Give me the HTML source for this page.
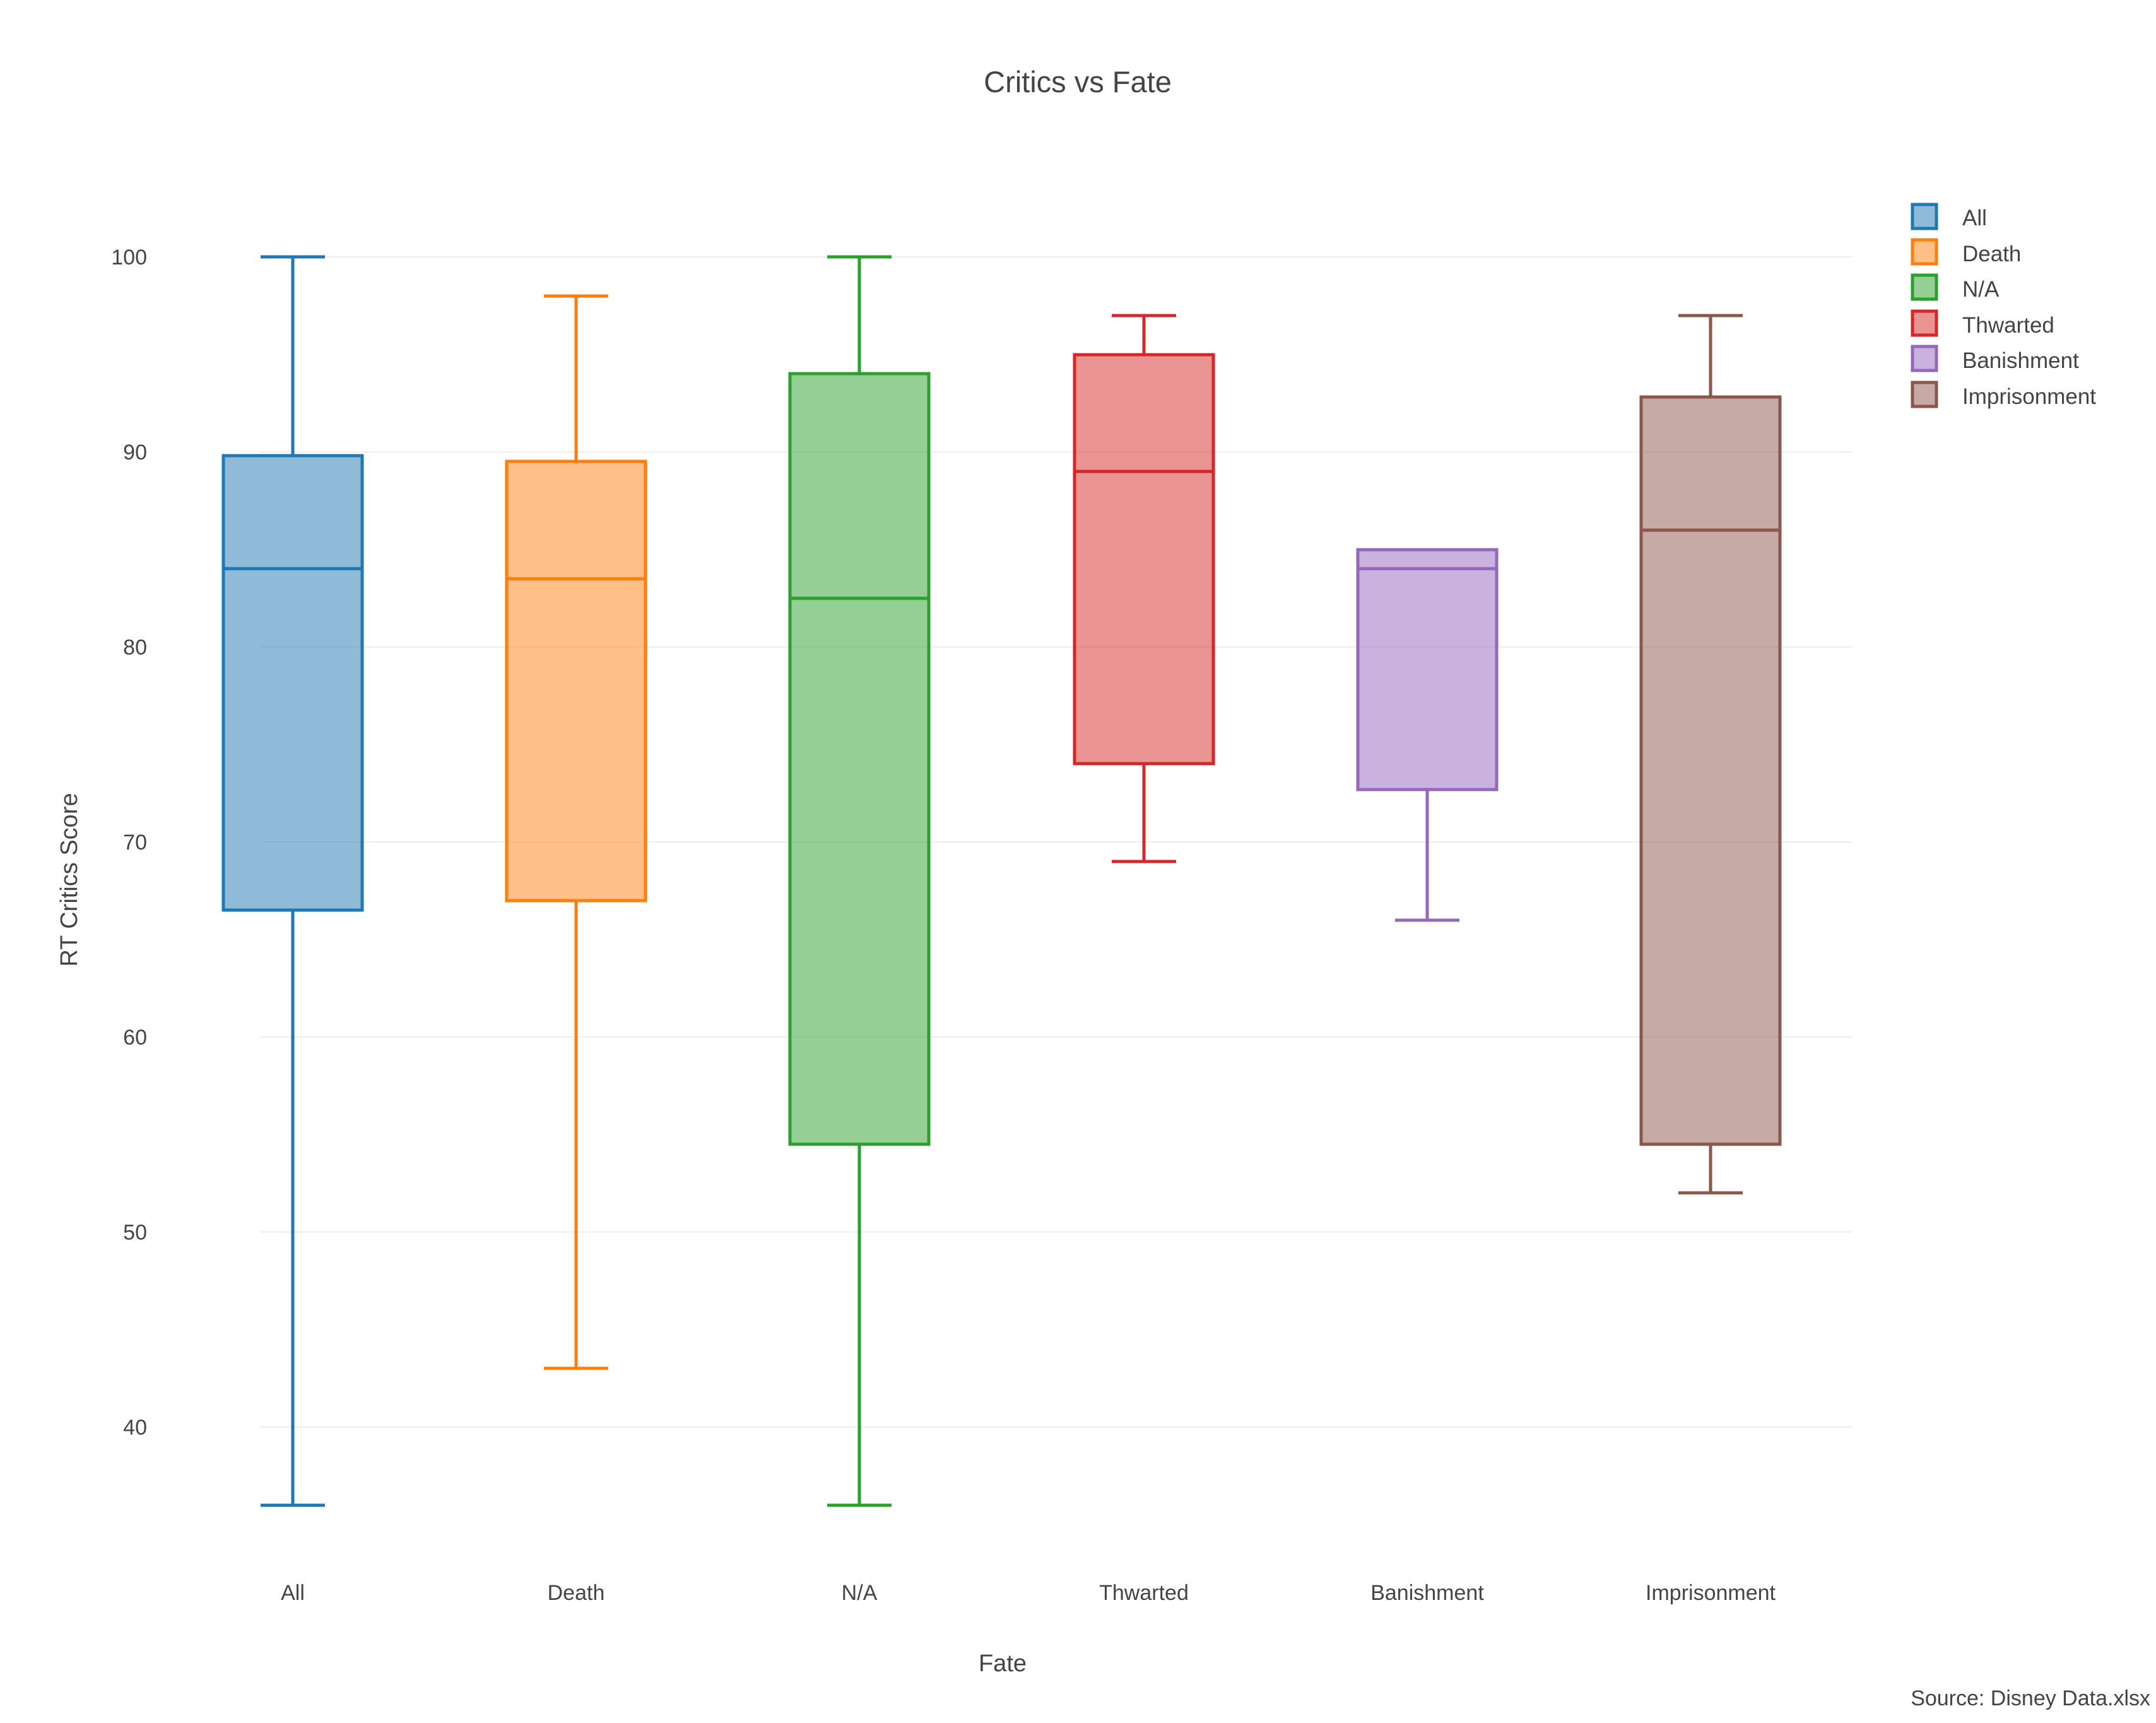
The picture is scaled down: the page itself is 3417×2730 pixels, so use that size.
<!DOCTYPE html>
<html><head><meta charset="utf-8"><style>
html,body{margin:0;padding:0;background:#fff;}
svg{display:block;font-family:"Liberation Sans",sans-serif;}
</style></head><body>
<svg width="3417" height="2730" viewBox="0 0 3417 2730" xmlns="http://www.w3.org/2000/svg">
<rect width="3417" height="2730" fill="#fff"/>
<g stroke="#eee" stroke-width="2">
<line x1="413" x2="2935" y1="407" y2="407"/>
<line x1="413" x2="2935" y1="716" y2="716"/>
<line x1="413" x2="2935" y1="1025" y2="1025"/>
<line x1="413" x2="2935" y1="1334" y2="1334"/>
<line x1="413" x2="2935" y1="1643" y2="1643"/>
<line x1="413" x2="2935" y1="1952" y2="1952"/>
<line x1="413" x2="2935" y1="2261" y2="2261"/>
</g>
<g fill="#444" font-size="34" text-anchor="end">
<text x="233" y="419">100</text>
<text x="233" y="728">90</text>
<text x="233" y="1037">80</text>
<text x="233" y="1346">70</text>
<text x="233" y="1655">60</text>
<text x="233" y="1964">50</text>
<text x="233" y="2273">40</text>
</g>
<text x="1708" y="146" font-size="47" fill="#444" text-anchor="middle">Critics vs Fate</text>
<text transform="translate(122,1394) rotate(-90)" font-size="38" fill="#444" text-anchor="middle">RT Critics Score</text>
<text x="1589" y="2648" font-size="38" fill="#444" text-anchor="middle">Fate</text>
<text x="3408" y="2702" font-size="34" fill="#444" text-anchor="end">Source: Disney Data.xlsx</text>
<g fill="#444" font-size="34" text-anchor="middle">
<text x="464" y="2535">All</text>
<text x="913" y="2535">Death</text>
<text x="1362" y="2535">N/A</text>
<text x="1813" y="2535">Thwarted</text>
<text x="2262" y="2535">Banishment</text>
<text x="2711" y="2535">Imprisonment</text>
</g>
<g stroke-width="5" fill-opacity="0.5">
<g stroke="#1f77b4" fill="#1f77b4">
<line x1="464" x2="464" y1="407" y2="722"/><line x1="464" x2="464" y1="1442" y2="2385"/>
<line x1="413" x2="515" y1="407" y2="407"/><line x1="413" x2="515" y1="2385" y2="2385"/>
<rect x="354" y="722" width="220" height="720"/>
<line x1="354" x2="574" y1="901" y2="901"/>
</g>
<g stroke="#ff7f0e" fill="#ff7f0e">
<line x1="913" x2="913" y1="469" y2="731"/><line x1="913" x2="913" y1="1427" y2="2168"/>
<line x1="862" x2="964" y1="469" y2="469"/><line x1="862" x2="964" y1="2168" y2="2168"/>
<rect x="803" y="731" width="220" height="696"/>
<line x1="803" x2="1023" y1="917" y2="917"/>
</g>
<g stroke="#2ca02c" fill="#2ca02c">
<line x1="1362" x2="1362" y1="407" y2="592"/><line x1="1362" x2="1362" y1="1813" y2="2385"/>
<line x1="1311" x2="1413" y1="407" y2="407"/><line x1="1311" x2="1413" y1="2385" y2="2385"/>
<rect x="1252" y="592" width="220" height="1221"/>
<line x1="1252" x2="1472" y1="948" y2="948"/>
</g>
<g stroke="#d62728" fill="#d62728">
<line x1="1813" x2="1813" y1="500" y2="562"/><line x1="1813" x2="1813" y1="1210" y2="1365"/>
<line x1="1762" x2="1864" y1="500" y2="500"/><line x1="1762" x2="1864" y1="1365" y2="1365"/>
<rect x="1703" y="562" width="220" height="648"/>
<line x1="1703" x2="1923" y1="747" y2="747"/>
</g>
<g stroke="#9467bd" fill="#9467bd">
<line x1="2262" x2="2262" y1="1251" y2="1458"/>
<line x1="2211" x2="2313" y1="1458" y2="1458"/>
<rect x="2152" y="871" width="220" height="380"/>
<line x1="2152" x2="2372" y1="901" y2="901"/>
</g>
<g stroke="#8c564b" fill="#8c564b">
<line x1="2711" x2="2711" y1="500" y2="629"/><line x1="2711" x2="2711" y1="1813" y2="1890"/>
<line x1="2660" x2="2762" y1="500" y2="500"/><line x1="2660" x2="2762" y1="1890" y2="1890"/>
<rect x="2601" y="629" width="220" height="1184"/>
<line x1="2601" x2="2821" y1="840" y2="840"/>
</g>
</g>
<g stroke-width="5" fill-opacity="0.5">
<rect x="3031" y="324" width="38" height="38" stroke="#1f77b4" fill="#1f77b4"/>
<rect x="3031" y="380" width="38" height="38" stroke="#ff7f0e" fill="#ff7f0e"/>
<rect x="3031" y="436" width="38" height="38" stroke="#2ca02c" fill="#2ca02c"/>
<rect x="3031" y="493" width="38" height="38" stroke="#d62728" fill="#d62728"/>
<rect x="3031" y="549" width="38" height="38" stroke="#9467bd" fill="#9467bd"/>
<rect x="3031" y="606" width="38" height="38" stroke="#8c564b" fill="#8c564b"/>
</g>
<g fill="#444" font-size="35">
<text x="3110" y="357">All</text>
<text x="3110" y="414">Death</text>
<text x="3110" y="470">N/A</text>
<text x="3110" y="527">Thwarted</text>
<text x="3110" y="583">Banishment</text>
<text x="3110" y="640">Imprisonment</text>
</g>
</svg>
</body></html>
